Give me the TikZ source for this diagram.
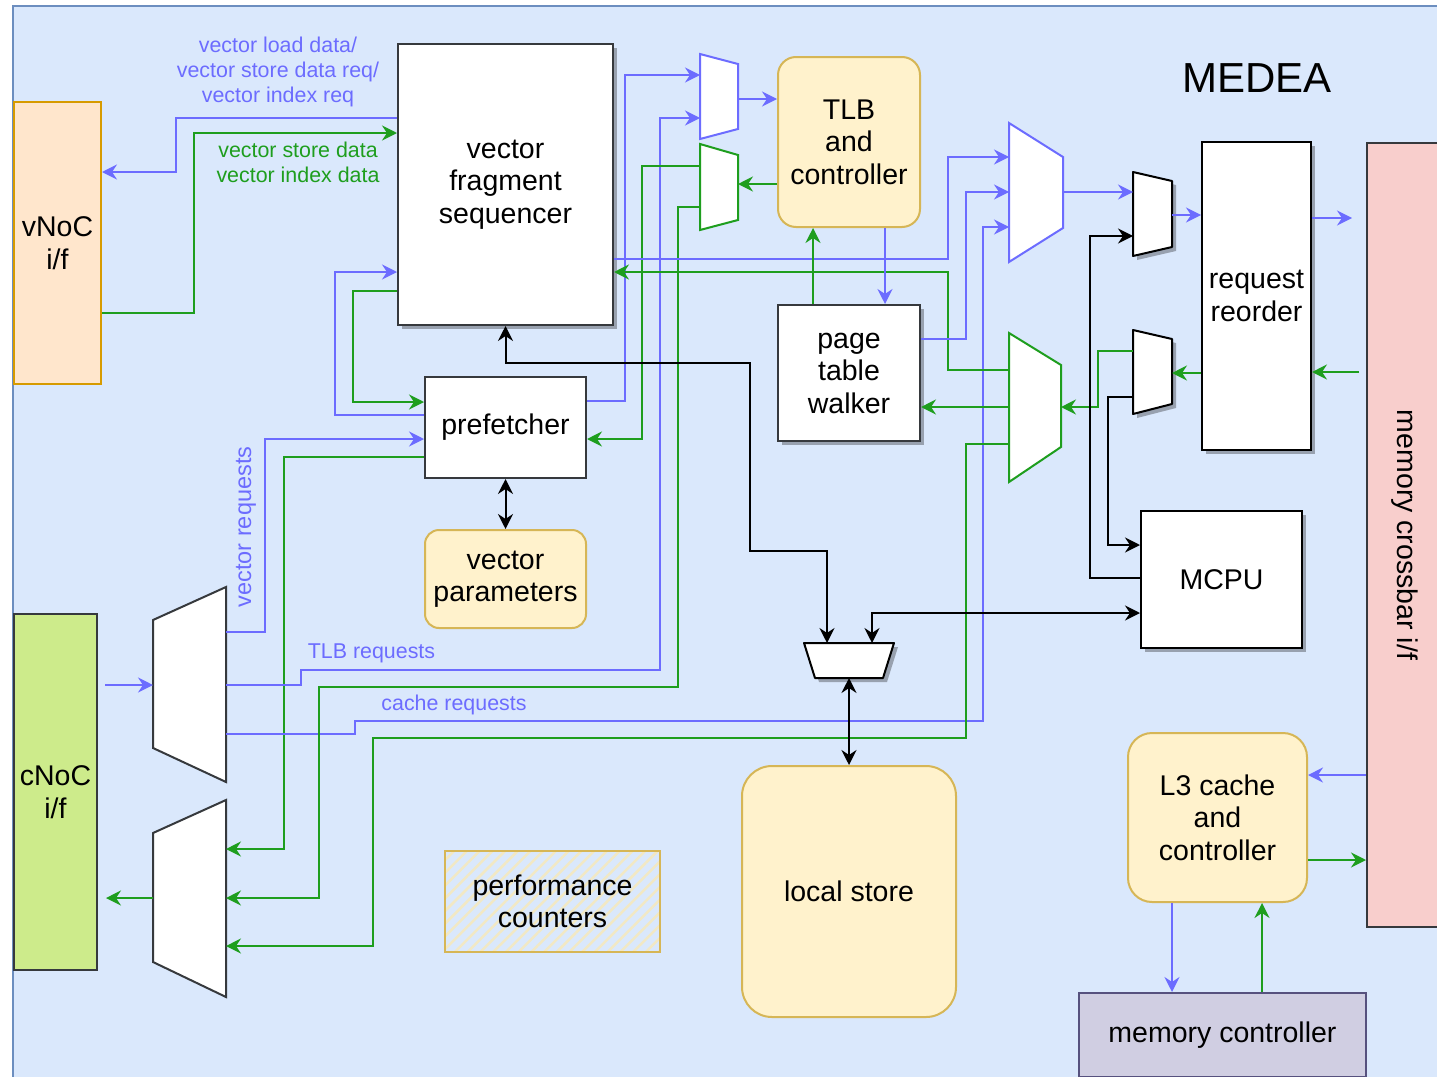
\documentclass[tikz,border=0pt]{standalone}
\usepackage{fontspec}
\setmainfont{Liberation Sans}
\usetikzlibrary{arrows.meta,shadows,patterns.meta}

\definecolor{bgfill}{HTML}{DAE8FC}
\definecolor{bgline}{HTML}{6C8EBF}
\definecolor{reqblue}{RGB}{108,108,255}
\definecolor{datgreen}{RGB}{30,158,30}
\definecolor{boxline}{HTML}{36393D}
\definecolor{orfill}{HTML}{FFE6CC}
\definecolor{orline}{HTML}{D79B00}
\definecolor{grfill}{HTML}{CDEB8B}
\definecolor{ylfill}{HTML}{FFF2CC}
\definecolor{ylline}{HTML}{D6B656}
\definecolor{pkfill}{HTML}{F8CECC}
\definecolor{ppfill}{HTML}{D0CEE2}
\definecolor{ppline}{HTML}{56517E}
\definecolor{hatch}{HTML}{F2E8C4}

\newcommand{\boxfont}{\fontsize{28.5}{32.5}\selectfont}
\newcommand{\labfont}{\fontsize{21.4}{25}\selectfont}

\begin{document}
\begin{tikzpicture}[x=1pt,y=-1pt,
    >={Stealth[length=15pt,width=15pt,inset=5pt]},
    box/.style={draw=boxline, line width=2pt, fill=white, align=center, inner sep=0, font=\boxfont},
    rbox/.style={box, draw=ylline, fill=ylfill, rounded corners=18pt},
    shadowed/.style={drop shadow={shadow xshift=4pt, shadow yshift=-4pt, opacity=0.3, fill=black}},
    muxarea/.style={inner sep=0, outer sep=0},
    bmux/.style={draw=reqblue, line width=2pt, fill=white},
    gmux/.style={draw=datgreen, line width=2pt, fill=white},
    kmux/.style={draw=black, line width=2pt, fill=white, line join=round, shadowed},
    req/.style={draw=reqblue, line width=2pt, ->},
    dat/.style={req, draw=datgreen},
    ctl/.style={draw=black, line width=2pt, ->},
    reqlab/.style={text=reqblue, font=\labfont, align=center, inner sep=0},
    datlab/.style={reqlab, text=datgreen}]
    \useasboundingbox (0,0) rectangle (1437,1076);
    \clip (0,0) rectangle (1437,1076);
    \draw[draw=bgline, fill=bgfill, line width=1.5pt] (13,6) rectangle (1450,1090);
    \node[font=\fontsize{42}{48}\selectfont] (title) at (1257,78) {MEDEA};
    %
    \node[box, draw=orline, fill=orfill, minimum width=87, minimum height=282] (vnoc) at (57.5,243) {vNoC\\i/f};
    \node[box, fill=grfill, minimum width=83, minimum height=356] (cnoc) at (55.5,792) {cNoC\\i/f};
    \node[box, shadowed, minimum width=215, minimum height=281] (vfs) at (505.5,184.5) {vector\\fragment\\sequencer};
    \node[box, minimum width=161, minimum height=101] (pf) at (505.5,427.5) {prefetcher};
    \node[rbox, rounded corners=14pt, minimum width=161, minimum height=98] (vp) at (505.5,579) {vector\\parameters};
    \node[rbox, minimum width=142, minimum height=170] (tlb) at (849,142) {TLB\\and\\controller};
    \node[box, shadowed, minimum width=142, minimum height=136] (ptw) at (849,373) {page\\table\\walker};
    \node[box, shadowed, draw=black, minimum width=109, minimum height=308] (rr) at (1256.5,296) {request\\reorder};
    \node[box, shadowed, draw=black, minimum width=161, minimum height=137] (mcpu) at (1221.5,579.5) {MCPU};
    \node[box, fill=pkfill, minimum width=76, minimum height=784] (xbar) at (1405,535) {\rotatebox{-90}{memory crossbar i/f}};
    \node[rbox, rounded corners=24pt, minimum width=179, minimum height=169] (l3) at (1217.5,817.5) {L3 cache\\and\\controller};
    \node[box, draw=ppline, fill=ppfill, minimum width=287, minimum height=84] (mc) at (1222.5,1035) {memory controller};
    \node[rbox, rounded corners=30pt, minimum width=214, minimum height=251] (ls) at (849,891.5) {local store};
    \node[box, draw=ylline, fill=none, pattern={Lines[angle=45,distance=9pt,line width=2.5pt]}, pattern color=hatch,
          minimum width=215, minimum height=101] (perf) at (552.5,901.5) {performance\\counters};
    %
    \node[muxarea, minimum width=38, minimum height=85] (bm1) at (719,96.5) {};
    \draw[bmux] (bm1.north west) -- ++(38,10) -- ++(0,65) -- (bm1.south west) -- cycle;
    \node[muxarea, minimum width=38, minimum height=86] (gm1) at (719,187) {};
    \draw[gmux] (gm1.north west) -- ++(38,11) -- ++(0,65) -- (gm1.south west) -- cycle;
    \node[muxarea, minimum width=54, minimum height=139] (bm2) at (1036,192.5) {};
    \draw[bmux] (bm2.north west) -- ++(54,34) -- ++(0,71) -- (bm2.south west) -- cycle;
    \node[muxarea, minimum width=52, minimum height=149] (gm2) at (1035,407.5) {};
    \draw[gmux] (gm2.north west) -- ++(52,32) -- ++(0,82) -- (gm2.south west) -- cycle;
    \node[muxarea, minimum width=39, minimum height=84] (km1) at (1152.5,214) {};
    \draw[kmux] (km1.north west) -- ++(39,9) -- ++(0,66) -- (km1.south west) -- cycle;
    \node[muxarea, minimum width=39, minimum height=84] (km2) at (1152.5,372) {};
    \draw[kmux] (km2.north west) -- ++(39,9) -- ++(0,65) -- (km2.south west) -- cycle;
    \node[muxarea, minimum width=90, minimum height=35] (km3) at (849,660.5) {};
    \draw[kmux] (km3.north west) -- (km3.north east) -- ++(-11,35) -- ++(-68,0) -- cycle;
    \node[muxarea, minimum width=73, minimum height=195] (cm1) at (189.5,684.5) {};
    \draw[box] (cm1.north east) -- (cm1.south east) -- ++(-73,-34) -- ++(0,-128) -- cycle;
    \node[muxarea, minimum width=73, minimum height=197] (cm2) at (189.5,898.5) {};
    \draw[box] (cm2.north east) -- (cm2.south east) -- ++(-73,-35) -- ++(0,-129) -- cycle;
    %
    \node[reqlab] (ldlab) at (278,72) {vector load data/\\vector store data req/\\vector index req};
    \node[datlab] (stlab) at (298,162.5) {vector store data\\vector index data};
    \node[reqlab, rotate=90, font=\fontsize{23.5}{27}\selectfont] (vrlab) at (246,527) {vector requests};
    \node[reqlab] (tlblab) at (371.5,653) {TLB requests};
    \node[reqlab] (cachelab) at (454,705) {cache requests};
    %
    \draw[req] (vfs.west |- 0,118) -| (176,172) -- (vnoc.east |- 0,172);
    \draw[dat] (vnoc.east |- 0,313) -| (194,133) -- (vfs.west |- 0,133);
    \draw[req] (pf.west |- 0,415) -| (335,272) -- (vfs.west |- 0,272);
    \draw[dat] (vfs.west |- 0,291) -| (353,402) -- (pf.west |- 0,402);
    \draw[req] (cm1.east |- 0,632) -| (265,439) -- (pf.west |- 0,439);
    \draw[dat] (pf.west |- 0,457) -| (284,849) -- (cm2.east |- 0,849);
    \draw[req] (cm1.east |- 0,685) -| (301,670) -| (660,118) -- (bm1.west |- 0,118);
    \draw[req] (cm1.east |- 0,734) -| (355,721) -| (983,227) -- (bm2.west |- 0,227);
    \draw[dat] (gm1.west |- 0,207) -| (678,687) -| (319,898) -- (cm2.east |- 0,898);
    \draw[dat] (gm2.west |- 0,444) -| (966,738) -| (373,946) -- (cm2.east |- 0,946);
    \draw[dat] (gm1.west |- 0,166) -| (642,439) -- (pf.east |- 0,439);
    \draw[req] (pf.east |- 0,401) -| (625,75) -- (bm1.west |- 0,75);
    \draw[req] (vfs.east |- 0,259) -| (948,157) -- (bm2.west |- 0,157);
    \draw[dat] (gm2.west |- 0,370) -| (948,272) -- (vfs.east |- 0,272);
    \draw[req] (ptw.east |- 0,339) -| (966,192) -- (bm2.west |- 0,192);
    \draw[dat] (gm2.west |- 0,407) -- (ptw.east |- 0,407);
    \draw[dat] (ptw.north -| 813,0) -- (tlb.south -| 813,0);
    \draw[req] (tlb.south -| 885,0) -- (ptw.north -| 885,0);
    \draw[dat] (tlb.west |- 0,184) -- (gm1.east |- 0,184);
    \draw[req] (bm1.east |- 0,99) -- (tlb.west |- 0,99);
    \draw[req] (bm2.east |- 0,192) -- (km1.west |- 0,192);
    \draw[req] (km1.east |- 0,215) -- (rr.west |- 0,215);
    \draw[req, shorten >=14pt] (rr.east |- 0,218) -- (xbar.west |- 0,218);
    \draw[dat, shorten <=7pt] (xbar.west |- 0,372) -- (rr.east |- 0,372);
    \draw[dat] (rr.west |- 0,373) -- (km2.east |- 0,373);
    \draw[dat] (km2.west |- 0,351) -| (1098,407) -- (gm2.east |- 0,407);
    \draw[ctl] (km2.west |- 0,397) -| (1108,545) -- (mcpu.west |- 0,545);
    \draw[ctl] (mcpu.west |- 0,578) -| (1090,236) -- (km1.west |- 0,236);
    \draw[ctl, <->] (mcpu.west |- 0,613) -| (km3.north -| 872,0);
    \draw[ctl, <->] (vfs.south) |- (750,363) |- (827,551) -- (km3.north -| 827,0);
    \draw[ctl, <->] (km3.south) -- (ls.north);
    \draw[ctl, <->] (pf.south) -- (vp.north);
    \draw[req] (xbar.west |- 0,775) -- (l3.east |- 0,775);
    \draw[dat] (l3.east |- 0,860) -- (xbar.west |- 0,860);
    \draw[req] (l3.south -| 1172,0) -- (mc.north -| 1172,0);
    \draw[dat] (mc.north -| 1262,0) -- (l3.south -| 1262,0);
    \draw[req, shorten <=7pt] (cnoc.east |- 0,685) -- (cm1.west |- 0,685);
    \draw[dat, shorten >=8pt] (cm2.west |- 0,898) -- (cnoc.east |- 0,898);
\end{tikzpicture}
\end{document}
